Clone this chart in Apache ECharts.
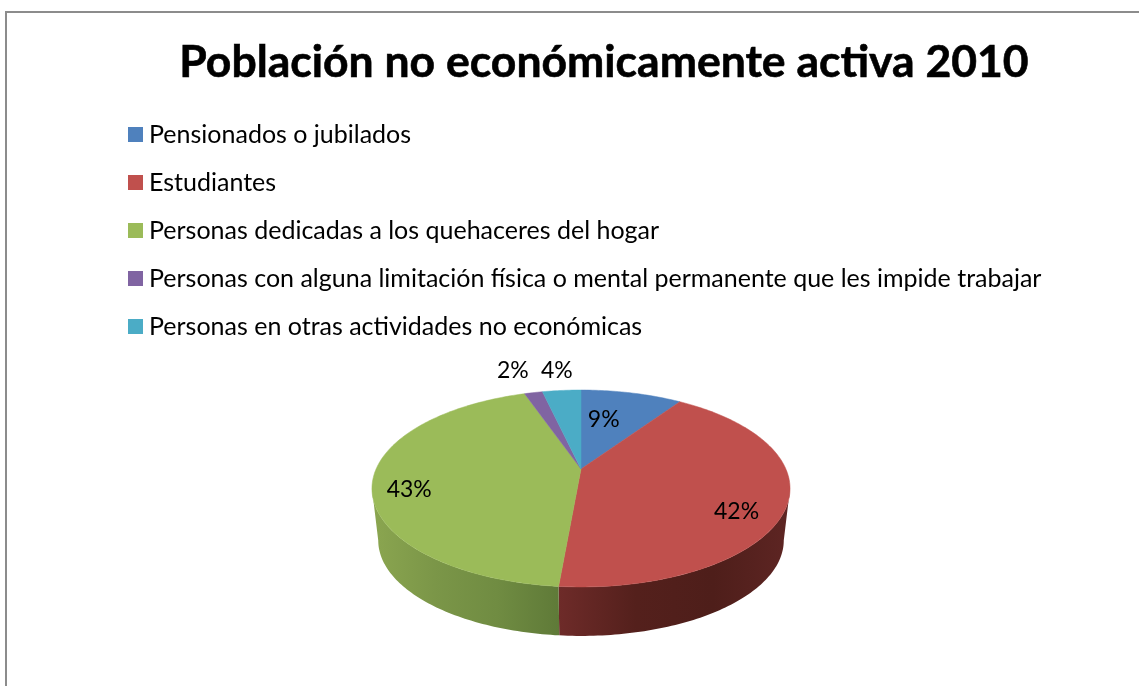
<!DOCTYPE html>
<html>
<head>
<meta charset="utf-8">
<style>html,body{margin:0;padding:0;background:#fff}#main{width:1139px;height:686px}</style>
<script src="https://cdn.jsdelivr.net/npm/echarts@6/dist/echarts.min.js"></script>
</head>
<body>
<div id="main"></div>
<script>
const titleText = 'Población no económicamente activa 2010';
const categories = [
    'Pensionados o jubilados',
    'Estudiantes',
    'Personas dedicadas a los quehaceres del hogar',
    'Personas con alguna limitación física o mental permanente que les impide trabajar',
    'Personas en otras actividades no económicas'
];
const values = [9.49, 41.91, 43.3, 1.7, 3.6];
const percentLabels = ['9%', '42%', '43%', '2%', '4%'];
const colors = ['#4f81bd', '#c0504d', '#9bbb59', '#8064a2', '#4bacc6'];

// label place inside the disc: radius factor, degrees away from slice middle
const labelRadius = [0.59, 0.81, 0.83, 1.368, 1.311];
const labelShift = [-5, 11, -7.3, -1.8, 0];

// wall shading, left to right, only the two front slices show a side
const wallStops = {
    1: ['#6e2b29', '#54201c', '#4e1e1a', '#5e2523'],
    2: ['#8ba650', '#7b9648', '#708c42', '#5f7a38']
};

// perspective of the flat disc
const tilt = 0.198;
const discX = 204.9;
const discY = 94.6;
const centerX = 581;
const topY = 469;
const bottomY = 521.5;
const bottomScale = 0.97;
const wallFrom = 101.4;
const wallTo = 258.6;

const total = values.reduce((a, b) => a + b, 0);

function project(deg, r, baseY, scale) {
    let rad = deg * Math.PI / 180;
    let u = r * Math.sin(rad);
    let v = r * Math.cos(rad);
    let w = 1 + tilt * v;
    return [centerX + scale * discX * u / w, baseY - scale * discY * v / w];
}

function rim(from, to, baseY, scale) {
    let pts = [];
    let steps = Math.max(2, Math.ceil(Math.abs(to - from)));
    for (let i = 0; i <= steps; i++) {
        pts.push(project(from + (to - from) * i / steps, 1, baseY, scale));
    }
    return pts;
}

function sliceRange(idx) {
    let before = 0;
    for (let i = 0; i < idx; i++) before += values[i];
    return [before / total * 360, (before + values[idx]) / total * 360];
}

function renderSlice(idx) {
    return function() {
        let range = sliceRange(idx);
        let children = [];

        let a = Math.max(range[0], wallFrom);
        let b = Math.min(range[1], wallTo);
        if (a < b) {
            let stops = wallStops[idx].map((c, i, arr) => ({ offset: i / (arr.length - 1), color: c }));
            children.push({
                type: 'polygon',
                shape: { points: rim(a, b, topY, 1).concat(rim(b, a, bottomY, bottomScale)) },
                style: {
                    fill: new echarts.graphic.LinearGradient(0, 0, 1, 0, stops)
                }
            });
        }

        children.push({
            type: 'polygon',
            shape: { points: [[centerX, topY]].concat(rim(range[0], range[1], topY, 1)) },
            style: { fill: colors[idx], stroke: colors[idx], lineWidth: 0.5 }
        });

        let mid = (range[0] + range[1]) / 2 + labelShift[idx];
        let p = project(mid, labelRadius[idx], topY, 1);
        children.push({
            type: 'text',
            z2: 10,
            style: {
                x: p[0],
                y: p[1],
                text: percentLabels[idx],
                fill: '#000',
                font: '23px Lato',
                align: 'center',
                verticalAlign: 'middle'
            }
        });
        return { type: 'group', children: children };
    };
}

let myChart = echarts.init(document.getElementById('main'));

let option = {
    animation: false,
    backgroundColor: '#fff',
    title: {
        text: titleText,
        left: 599,
        top: 35,
        textAlign: 'center',
        textStyle: {
            color: '#000',
            fontFamily: 'Lato',
            fontWeight: 'bold',
            fontSize: 44.5,
            textBorderColor: '#000',
            textBorderWidth: 0.6
        }
    },
    legend: {
        orient: 'vertical',
        left: 128,
        top: 121,
        padding: 0,
        icon: 'rect',
        itemWidth: 15,
        itemHeight: 15,
        itemGap: 21,
        selectedMode: false,
        data: categories,
        textStyle: {
            color: '#000',
            fontFamily: 'Lato',
            fontSize: 25,
            lineHeight: 26,
            padding: [1, 0, 0, 1]
        }
    },
    graphic: [
        {
            type: 'polyline',
            silent: true,
            shape: { points: [[6, 686], [6, 12], [1139, 12]] },
            style: { stroke: '#8c8c8c', lineWidth: 2, fill: null }
        }
    ],
    series: categories.map((name, i) => ({
        type: 'custom',
        name: name,
        coordinateSystem: 'none',
        silent: true,
        itemStyle: { color: colors[i] },
        renderItem: renderSlice(i),
        data: [values[i]]
    }))
};

myChart.setOption(option);
</script>
</body>
</html>
